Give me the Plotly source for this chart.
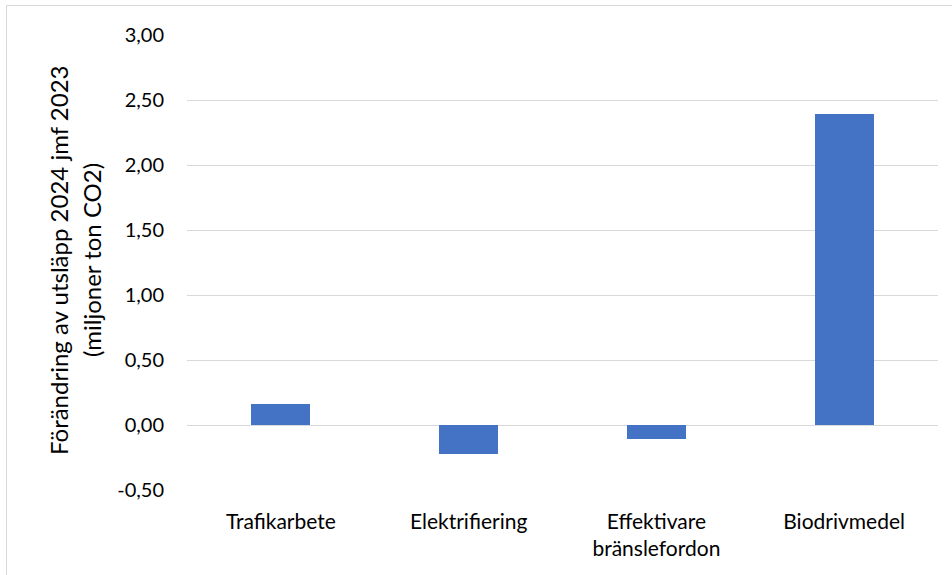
import plotly.graph_objects as go

categories = ["Trafikarbete", "Elektrifiering", "Effektivare<br>bränslefordon", "Biodrivmedel"]
values = [0.16, -0.22, -0.11, 2.39]
tick_vals = [-0.5, 0.0, 0.5, 1.0, 1.5, 2.0, 2.5, 3.0]
tick_text = ["-0,50", "0,00", "0,50", "1,00", "1,50", "2,00", "2,50", "3,00"]
y_title_lines = ["Förändring av utsläpp 2024 jmf 2023", "(miljoner ton CO2)"]

FONT = "Lato, 'Open Sans', sans-serif"
BAR_COLOR = "#4472C4"
GRID_COLOR = "#D9D9D9"

# plot area in pixels (used to place the rotated title lines and the frame)
PLOT_L, PLOT_W = 187, 751
PLOT_T, PLOT_H = 35, 455

fig = go.Figure(
    go.Bar(
        x=categories,
        y=values,
        marker=dict(color=BAR_COLOR, line=dict(width=0)),
        width=0.315,
    )
)

fig.update_layout(
    width=952,
    height=575,
    margin=dict(l=PLOT_L, r=952 - PLOT_L - PLOT_W, t=PLOT_T, b=575 - PLOT_T - PLOT_H),
    paper_bgcolor="white",
    plot_bgcolor="white",
    showlegend=False,
    font=dict(family=FONT, size=20, color="#000000"),
    bargap=0.0,
)

fig.update_xaxes(
    showgrid=False,
    showline=False,
    ticks="",
    tickfont=dict(size=21),
    ticklabelstandoff=17,
    zeroline=False,
)

fig.update_yaxes(
    range=[-0.5, 3.0],
    tickvals=tick_vals,
    ticktext=tick_text,
    showgrid=True,
    gridcolor=GRID_COLOR,
    gridwidth=1,
    zeroline=True,
    zerolinecolor=GRID_COLOR,
    zerolinewidth=1,
    showline=False,
    ticks="",
    ticklabelstandoff=22,
    tickfont=dict(size=20),
)

# two-line rotated y-axis title
title_cy = (PLOT_T + PLOT_H - 260) / PLOT_H
for line, px in zip(y_title_lines, [58, 91]):
    fig.add_annotation(
        text=line,
        xref="paper",
        yref="paper",
        x=(px - PLOT_L) / PLOT_W,
        y=title_cy,
        xanchor="center",
        yanchor="middle",
        textangle=-90,
        showarrow=False,
        font=dict(size=24, family=FONT, color="#000000"),
    )

# light frame around the chart area
fig.add_shape(
    type="rect",
    xref="paper",
    yref="paper",
    x0=(6.5 - PLOT_L) / PLOT_W,
    x1=(960 - PLOT_L) / PLOT_W,
    y0=(PLOT_H - (580 - PLOT_T)) / PLOT_H,
    y1=(PLOT_H - (5.5 - PLOT_T)) / PLOT_H,
    line=dict(color="#D9D9D9", width=1),
    fillcolor="rgba(0,0,0,0)",
    layer="below",
)

fig.write_html("out.html")
